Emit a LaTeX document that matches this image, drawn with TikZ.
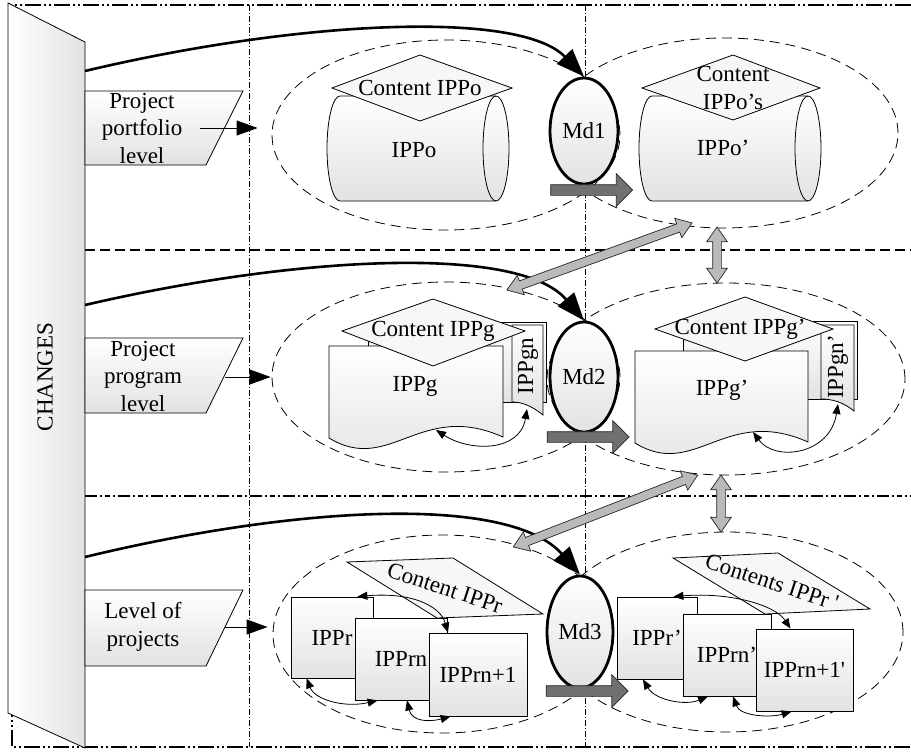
\documentclass[tikz,border=0pt]{standalone}
\usepackage{fontspec}
\setmainfont{Liberation Serif}
\usetikzlibrary{shapes.geometric, shapes.arrows, arrows.meta, calc}
\definecolor{shiftgray}{RGB}{112,112,112}
\definecolor{linkgray}{RGB}{186,186,186}
\definecolor{sheetgray}{RGB}{226,226,226}

\tikzset{
  frameline/.style={line width=1.8pt, dash pattern=on 16pt off 3pt on 2pt off 3pt on 2pt off 3pt},
  lanedash/.style={line width=2.4pt, dash pattern=on 10pt off 5pt},
  lanedot/.style={line width=2pt, dash pattern=on 12pt off 3pt on 2pt off 3pt on 5pt off 3pt on 2pt off 3pt},
  colline/.style={line width=0.7pt, dash pattern=on 6pt off 2pt on 1pt off 2pt},
  group/.style={draw, ellipse, line width=0.8pt, dash pattern=on 10pt off 6pt, inner sep=0pt},
  mdnode/.style={draw, ellipse, line width=2.8pt, top color=white, bottom color=sheetgray, inner sep=0pt},
  sheet/.style={draw, line width=0.8pt, top color=white, bottom color=sheetgray},
  chgfill/.style={draw, line width=0.8pt, left color=white, right color=sheetgray},
  boxnode/.style={draw, line width=0.8pt, top color=white, bottom color=sheetgray, inner sep=0pt},
  capbox/.style={draw, line width=0.8pt, fill=gray!6},
  doclink/.style={{Triangle[length=10pt,width=8pt]}-{Triangle[length=10pt,width=8pt]}, line width=0.8pt},
  lvlarrow/.style={-{Triangle[length=21pt,width=15pt]}, line width=0.8pt},
  chgarrow/.style={-{Triangle[length=28pt,width=21pt]}, line width=2.6pt},
  shiftarrow/.style={single arrow, draw=black!85, fill=shiftgray, line width=0.7pt, minimum height=82pt, inner xsep=0pt, inner ysep=5pt, single arrow head extend=11pt},
  linkarrow/.style={double arrow, draw=black!85, fill=linkgray, line width=0.7pt, inner xsep=0pt, inner ysep=4pt, double arrow head extend=6pt, double arrow tip angle=70},
}

\begin{document}
\begin{tikzpicture}[x=1pt, y=-1pt, font=\fontsize{23}{27.5}\selectfont]
  \useasboundingbox (0,0) rectangle (911,753);

  % Frame and lanes
  \draw[frameline] (911,5) -- (12,5) -- (12,747) -- (911,747);
  \draw[lanedash] (85,250) -- (911,250);
  \draw[lanedot] (85,496) -- (911,496);
  \draw[colline] (249,5) -- (249,747);
  \draw[colline] (585,5) -- (585,747);

  % Changes column
  \draw[chgfill] (8,3) -- (85,42) -- (85,748) -- (8,713) -- cycle;
  \node[rotate=90] (changes) at (45,377) {CHANGES};
  \coordinate (chg1) at (85,71);
  \coordinate (chg2) at (85,305);
  \coordinate (chg3) at (85,557);

  % Level labels
  \draw[sheet] (85,91) -- (243,91) -- (206,165) -- (85,165) -- cycle;
  \node[align=center] (lvl1) at (142,128) {Project\\portfolio\\level};
  \draw[sheet] (85,338) -- (243,338) -- (206,413) -- (85,413) -- cycle;
  \node[align=center] (lvl2) at (143,376) {Project\\program\\level};
  \draw[sheet] (85,590) -- (243,590) -- (206,666) -- (85,666) -- cycle;
  \node[align=center] (lvl3) at (143,627) {Level of\\projects};
  \coordinate (lvl1out) at (200,128);
  \coordinate (lvl2out) at (225,377);
  \coordinate (lvl3out) at (225,627);

  % Groups before and after
  \node[group, minimum width=348pt, minimum height=190pt] (grpA) at (446,135) {};
  \node[group, minimum width=348pt, minimum height=190pt] (grpB) at (724,133) {};
  \node[group, minimum width=348pt, minimum height=190pt] (grpC) at (446,377) {};
  \node[group, minimum width=358pt, minimum height=192pt] (grpD) at (726,379) {};
  \node[group, minimum width=338pt, minimum height=198pt] (grpE) at (442,634) {};
  \node[group, minimum width=352pt, minimum height=200pt] (grpF) at (727,632) {};

  \draw[lvlarrow, shorten >=14pt] (lvl1out) -- (lvl1out -| grpA.west);
  \draw[lvlarrow, shorten >=1pt] (lvl2out) -- (lvl2out -| grpC.west);
  \draw[lvlarrow, shorten >=5pt] (lvl3out) -- (lvl3out -| grpE.west);

  % Portfolio level
  \draw[sheet] (340,96) -- (496,96) arc[start angle=90, end angle=-90, x radius=13pt, y radius=52.5pt]
    -- (340,201) arc[start angle=-90, end angle=-270, x radius=13pt, y radius=52.5pt] -- cycle;
  \draw[line width=0.8pt] (496,96) arc[start angle=90, end angle=270, x radius=13pt, y radius=52.5pt];
  \draw[capbox] (332,88) -- (420,55) -- (512,88) -- (420,121) -- cycle;
  \node (capo) at (420,88) {Content IPPo};
  \node (ippo) at (414,150) {IPPo};

  \draw[sheet] (652,96) -- (808,96) arc[start angle=90, end angle=-90, x radius=13pt, y radius=52.5pt]
    -- (652,201) arc[start angle=-90, end angle=-270, x radius=13pt, y radius=52.5pt] -- cycle;
  \draw[line width=0.8pt] (808,96) arc[start angle=90, end angle=270, x radius=13pt, y radius=52.5pt];
  \draw[capbox] (642,88) -- (733,55) -- (820,88) -- (733,120) -- cycle;
  \node[align=center] (capop) at (733,88) {Content\\IPPo’s};
  \node (ippop) at (723,148) {IPPo’};

  % Program level
  \draw[sheet] (368,322) rectangle (546,402);
  \draw[sheet] (512,325) -- (543,325) -- (543,415) .. controls (532,406) and (522,402) .. (512,402) -- cycle;
  \draw[sheet] (329,346) -- (503,346) -- (503,437) .. controls (420,400) and (390,475) .. (329,438) -- cycle;
  \draw[capbox] (342,331) -- (433,299) -- (525,331) -- (433,366) -- cycle;
  \node (capg) at (433,331) {Content IPPg};
  \node (ippg) at (415,386) {IPPg};
  \node[rotate=90] (ippgn) at (528,366) {IPPgn};
  \coordinate (gwave) at (436,430);
  \coordinate (gnwave) at (527,409);
  \draw[doclink] (gwave) .. controls (470,452) and (520,452) .. (gnwave);

  \draw[sheet] (683,321) rectangle (857,399);
  \draw[sheet] (821,325) -- (854,325) -- (854,411) .. controls (843,402) and (832,399) .. (821,399) -- cycle;
  \draw[sheet] (635,351) -- (808,351) -- (808,442) .. controls (725,405) and (695,480) .. (635,443) -- cycle;
  \draw[capbox] (655,329) -- (745,297) -- (833,329) -- (745,361) -- cycle;
  \node (capgp) at (740,329) {Content IPPg’};
  \node (ippgp) at (722,390) {IPPg’};
  \node[rotate=90] (ippgnp) at (838,367) {IPPgn’};
  \coordinate (gpwave) at (753,432);
  \coordinate (gnpwave) at (838,404);
  \draw[doclink] (gpwave) .. controls (775,462) and (830,455) .. (gnpwave);

  % Project level
  \node[boxnode, minimum width=82pt, minimum height=81pt] (ippr) at (332,637.5) {IPPr};
  \draw[capbox] (347,562) -- (453,558) -- (543,614) -- (437,618) -- cycle;
  \node[rotate=-18] (capr) at (445,588) {Content IPPr};
  \node[boxnode, minimum width=92pt, minimum height=82pt] (ipprn) at (401,659) {IPPrn};
  \node[boxnode, minimum width=98pt, minimum height=83pt] (ipprnn) at (478,674.5) {IPPrn+1};
  \draw[doclink] ([xshift=-16pt]ippr.north east) .. controls (410,592) and (440,605) .. ([xshift=-30pt]ipprnn.north);
  \draw[doclink] ([xshift=16pt]ippr.south west) .. controls (315,700) and (345,708) .. ([xshift=23pt]ipprn.south west);
  \draw[doclink] ([xshift=6pt]ipprn.south) .. controls (412,722) and (430,722) .. ([xshift=22pt]ipprnn.south west);

  \node[boxnode, minimum width=80pt, minimum height=82pt] (ipprp) at (657,638) {IPPr’};
  \draw[capbox] (673,558) -- (778,553) -- (870,609) -- (765,614) -- cycle;
  \node[rotate=-18] (caprp) at (772,582) {Contents IPPr \textquotesingle};
  \node[boxnode, minimum width=88pt, minimum height=82pt] (ipprnp) at (727,655) {IPPrn’};
  \node[boxnode, minimum width=97pt, minimum height=82pt] (ipprnnp) at (804.5,670) {IPPrn+1\textquotesingle};
  \draw[doclink] ([xshift=-24pt]ipprp.north east) .. controls (730,592) and (775,605) .. ([xshift=-14pt]ipprnnp.north);
  \draw[doclink] ([xshift=-14pt]ipprp.south) .. controls (655,700) and (685,706) .. ([xshift=-19pt]ipprnp.south);
  \draw[doclink] ([xshift=6pt]ipprnp.south) .. controls (740,716) and (770,718) .. ([xshift=36pt]ipprnnp.south west);

  % Decision models
  \node[mdnode, minimum width=68pt, minimum height=106pt] (md1) at (584,131) {Md1};
  \node[mdnode, minimum width=68pt, minimum height=110pt] (md2) at (584,377) {Md2};
  \node[mdnode, minimum width=66pt, minimum height=112pt] (md3) at (580,632) {Md3};

  \node[shiftarrow] (shift1) at (589,190) {};
  \node[shiftarrow] (shift2) at (585.5,437) {};
  \node[shiftarrow] (shift3) at (584.5,691) {};

  % Changes into models
  \draw[chgarrow] (chg1) .. controls (300,20) and (520,10) .. (md1.north);
  \draw[chgarrow] (chg2) .. controls (300,255) and (520,245) .. (md2.north);
  \draw[chgarrow] (chg3) .. controls (300,505) and (510,495) .. (md3.north);

  % Links between levels
  \coordinate (lkA1) at (507,290);
  \coordinate (lkA2) at (692,223);
  \coordinate (lkB1) at (717,227);
  \coordinate (lkB2) at (717,283);
  \coordinate (lkC1) at (513,547);
  \coordinate (lkC2) at (698,475);
  \coordinate (lkD1) at (721,475);
  \coordinate (lkD2) at (721,532);
  \path (lkA1) -- (lkA2) node[linkarrow, midway, sloped, minimum height=197pt] (linkA) {};
  \path (lkB1) -- (lkB2) node[linkarrow, midway, sloped, minimum height=56pt] (linkB) {};
  \path (lkC1) -- (lkC2) node[linkarrow, midway, sloped, minimum height=198pt] (linkC) {};
  \path (lkD1) -- (lkD2) node[linkarrow, midway, sloped, minimum height=57pt] (linkD) {};
\end{tikzpicture}
\end{document}
